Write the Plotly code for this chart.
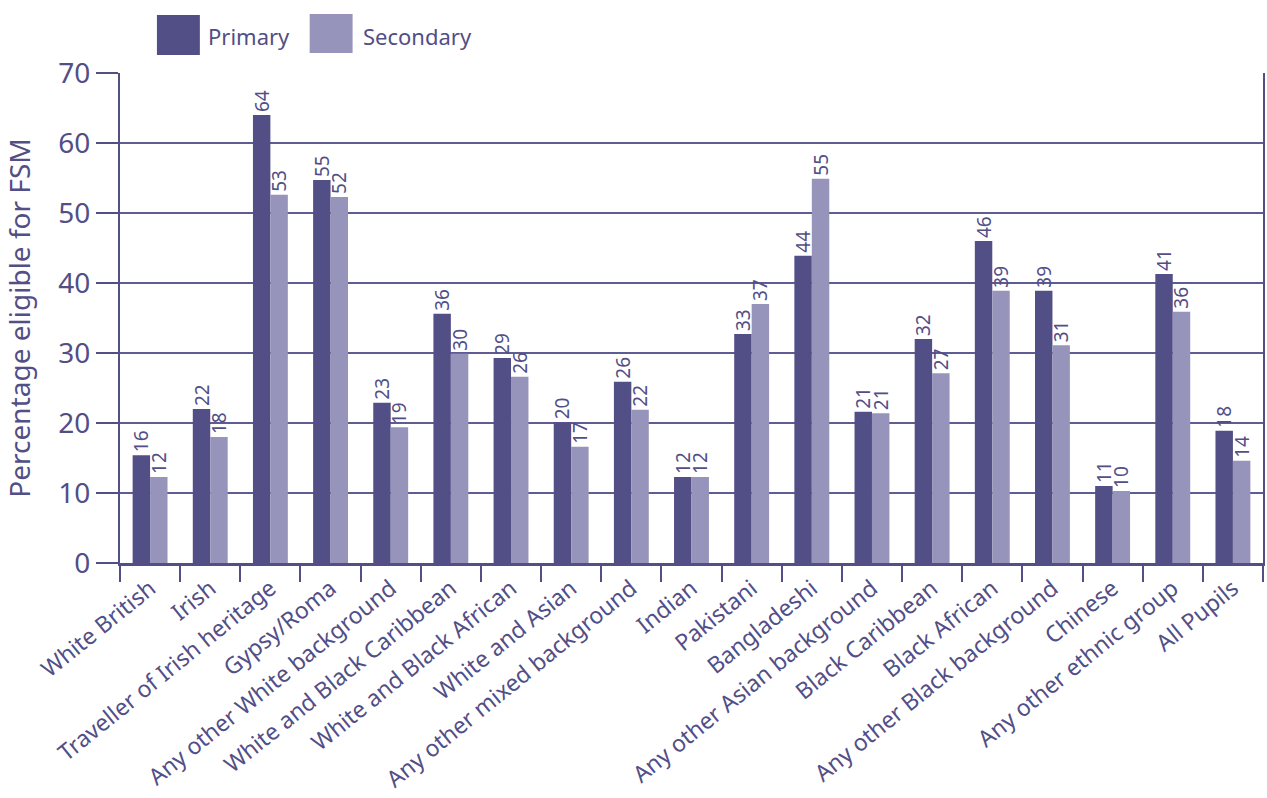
import plotly.graph_objects as go

categories = ["White British", "Irish", "Traveller of Irish heritage", "Gypsy/Roma",
              "Any other White background", "White and Black Caribbean",
              "White and Black African", "White and Asian", "Any other mixed background",
              "Indian", "Pakistani", "Bangladeshi", "Any other Asian background",
              "Black Caribbean", "Black African", "Any other Black background",
              "Chinese", "Any other ethnic group", "All Pupils"]
primary = [15.4, 22.0, 64.0, 54.7, 22.9, 35.6, 29.3, 20.1, 25.9, 12.3, 32.7, 43.9,
           21.6, 32.0, 46.0, 38.9, 11.0, 41.3, 18.9]
secondary = [12.3, 18.0, 52.6, 52.3, 19.4, 29.9, 26.6, 16.6, 21.9, 12.3, 37.0, 54.9,
             21.4, 27.1, 38.9, 31.1, 10.3, 35.9, 14.6]
primary_labels = ["16", "22", "64", "55", "23", "36", "29", "20", "26", "12", "33", "44",
                  "21", "32", "46", "39", "11", "41", "18"]
secondary_labels = ["12", "18", "53", "52", "19", "30", "26", "17", "22", "12", "37", "55",
                    "21", "27", "39", "31", "10", "36", "14"]
y_ticks = [0, 10, 20, 30, 40, 50, 60, 70]

DARK = "#524e86"
LIGHT = "#9794bb"
TXT = "#524e86"
FONT = "Noto Sans"

fig = go.Figure()
fig.add_trace(go.Bar(x=categories, y=primary, name="Primary", marker_color=DARK,
                     marker_line_width=0, text=primary_labels, textposition="outside",
                     textangle=-90, textfont=dict(size=19, color=TXT, family=FONT),
                     constraintext="none", cliponaxis=False))
fig.add_trace(go.Bar(x=categories, y=secondary, name="Secondary", marker_color=LIGHT,
                     marker_line_width=0, text=secondary_labels, textposition="outside",
                     textangle=-90, textfont=dict(size=19, color=TXT, family=FONT),
                     constraintext="none", cliponaxis=False))

# legend drawn as shapes + annotations
fig.add_shape(type="rect", xref="paper", yref="paper", x0=(157-120)/1145, x1=(200-120)/1145,
              y0=1 + (73-55)/490, y1=1 + (73-15)/490, fillcolor=DARK, line_width=0)
fig.add_shape(type="rect", xref="paper", yref="paper", x0=(310-120)/1145, x1=(353-120)/1145,
              y0=1 + (73-53)/490, y1=1 + (73-14)/490, fillcolor=LIGHT, line_width=0)
fig.add_annotation(xref="paper", yref="paper", x=(206-120)/1145, y=1 + (73-36)/490,
                   text="Primary", showarrow=False, xanchor="left", yanchor="middle",
                   font=dict(size=22, color=TXT, family=FONT))
fig.add_annotation(xref="paper", yref="paper", x=(361-120)/1145, y=1 + (73-36)/490,
                   text="Secondary", showarrow=False, xanchor="left", yanchor="middle",
                   font=dict(size=22, color=TXT, family=FONT))

fig.update_layout(
    width=1267, height=798,
    margin=dict(l=120, r=2, t=73, b=235),
    plot_bgcolor="white", paper_bgcolor="white",
    barmode="group", bargap=0.42, bargroupgap=0,
    showlegend=False,
    font=dict(family=FONT, color=TXT),
    xaxis=dict(tickangle=-39, tickfont=dict(size=23, color=TXT, family=FONT),
               showline=True, linecolor=DARK, linewidth=3,
               ticks="outside", tickson="boundaries", ticklen=16, tickcolor=DARK, tickwidth=1.5,
               showgrid=False),
    yaxis=dict(range=[0, 70], tickvals=y_ticks, tickfont=dict(size=28, color=TXT, family=FONT),
               showline=True, linecolor=DARK, linewidth=2, mirror=True,
               showgrid=True, gridcolor="#5f5b93", gridwidth=1.5,
               ticks="outside", ticklen=22, tickcolor=DARK, tickwidth=1.5,
               title=dict(text="Percentage eligible for FSM", font=dict(size=28, color=TXT, family=FONT),
                          standoff=22),
               zeroline=False),
)

fig.write_html("out.html")
